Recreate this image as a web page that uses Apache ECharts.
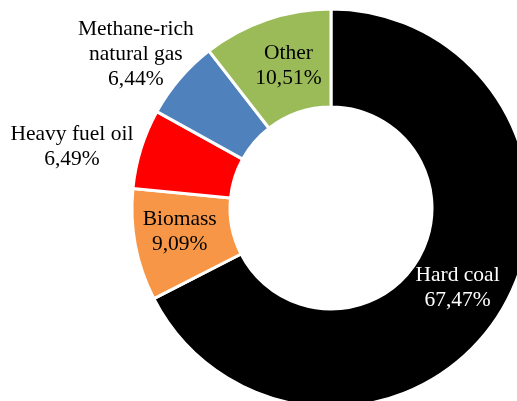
<!DOCTYPE html>
<html>
<head>
<meta charset="utf-8">
<script src="https://cdn.jsdelivr.net/npm/echarts@6/dist/echarts.min.js"></script>
<style>
  html, body { margin: 0; padding: 0; background: #fff; }
  #chart { width: 517px; height: 401px; }
</style>
</head>
<body>
<div id="chart"></div>
<script>
// fuel shares, clockwise from the top
var categories = ['Hard coal', 'Biomass', 'Heavy fuel oil', 'Methane-rich\nnatural gas', 'Other']
var shares = [67.47, 9.09, 6.49, 6.44, 10.51]
var colors = ['#000000', '#F79646', '#FF0000', '#4F81BD', '#9BBB59']

// label nudges from the default inside position
var labelShift = [
    { dx: -4, dy: 0 },
    { dx: -1, dy: -5 },
    { dx: -113, dy: -16 },
    { dx: -79, dy: -54 },
    { dx: 7, dy: 3 }
]

var chart = echarts.init(document.getElementById('chart'))
chart.setOption({
    animation: false,
    series: [
        {
            type: 'pie',
            center: [331, 208],
            radius: [101, 199],
            startAngle: 90,
            clockwise: true,
            avoidLabelOverlap: false,
            itemStyle: {
                borderColor: '#ffffff',
                borderWidth: 3
            },
            label: {
                position: 'inside',
                fontFamily: 'Liberation Serif',
                fontSize: 21.5,
                lineHeight: 25,
                color: '#000',
                formatter: function (p) {
                    return p.name + '\n' + p.value.toFixed(2).replace('.', ',') + '%'
                }
            },
            labelLine: { show: false },
            labelLayout: function (p) {
                return labelShift[p.dataIndex]
            },
            data: categories.map(function (name, i) {
                var item = {
                    name: name,
                    value: shares[i],
                    itemStyle: { color: colors[i] }
                }
                if (i === 0) {
                    item.label = { color: '#fff' }
                }
                return item
            })
        }
    ]
})
</script>
</body>
</html>
